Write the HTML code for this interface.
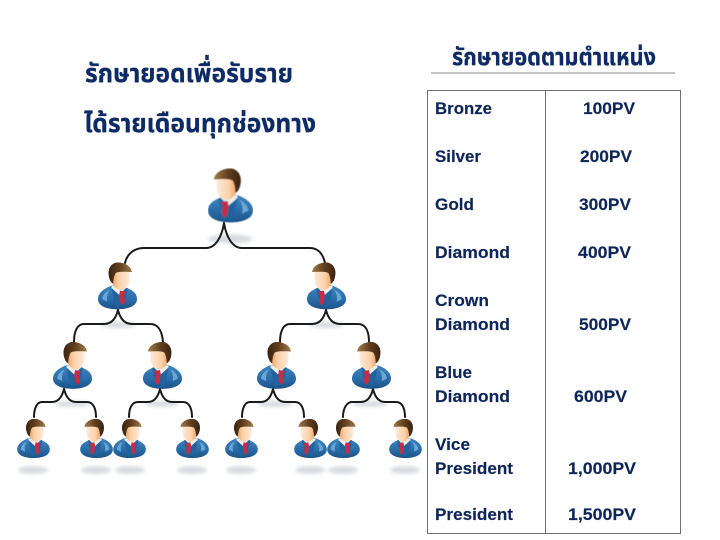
<!DOCTYPE html>
<html>
<head>
<meta charset="utf-8">
<style>
html,body{margin:0;padding:0;background:#fff}
svg{display:block}
.th{font-family:"Liberation Sans","Noto Sans Thai","Noto Sans CJK SC","WenQuanYi Zen Hei",sans-serif;fill:#0f2b66;font-weight:bold;stroke:#0f2b66;stroke-width:.25}
.t{font-family:"Liberation Sans",sans-serif;font-size:17px;font-weight:bold;fill:#0e2558;stroke:#0e2558;stroke-width:.15}
</style>
</head>
<body>
<svg width="720" height="540" viewBox="0 0 720 540" xmlns="http://www.w3.org/2000/svg">
<defs>
<linearGradient id="suit" x1="0" y1="0" x2="0" y2="1"><stop offset="0" stop-color="#3f86c0"/><stop offset=".6" stop-color="#2a6ca8"/><stop offset="1" stop-color="#1d5288"/></linearGradient>
<linearGradient id="face" x1="0" y1="0" x2="1" y2="0"><stop offset="0" stop-color="#fdeadb"/><stop offset=".65" stop-color="#fbcfa6"/><stop offset="1" stop-color="#ef9f62"/></linearGradient>
<linearGradient id="hair" x1="0" y1="0" x2="1" y2="0"><stop offset="0" stop-color="#a07a48"/><stop offset=".55" stop-color="#5e3d1e"/><stop offset="1" stop-color="#3b2412"/></linearGradient>
<filter id="b" x="-10%" y="-10%" width="120%" height="120%"><feGaussianBlur stdDeviation=".45"/></filter>
<filter id="s" x="-30%" y="-100%" width="160%" height="300%"><feGaussianBlur stdDeviation="1.8"/></filter>
<symbol id="p" viewBox="0 0 46 55">
<g filter="url(#b)">
<path d="M0 43C0 35 7 32 14 29L22 26L30 27C38 30 46 35 46 43C46 51 36 55 23 55C10 55 0 51 0 43Z" fill="url(#suit)"/>
<path d="M32 32C37 34 41 38 41 43L35 46C36 40 35 36 32 32Z" fill="#6ba6d6"/>
<path d="M11 30L13 41L21 50L22 54L27 48L30 29L22 30Z" fill="#22649f"/>
<path d="M13 30L18 29L30 27L30 30L21 38Z" fill="#eeeeea"/>
<path d="M13 34L20 33L21 38L20 47L17 50L14 47L15 39Z" fill="#c22d47"/>
<path d="M9 15C8 6 13 3 19 3C26 3 29 11 29 20C29 28 23 33 17 32C11 31 8 23 9 15Z" fill="url(#face)"/>
<path d="M6 11C7 3 17 -1 25 0C32 2 35 9 33 17C32 21 31 23 28 25C28 20 27 15 25 12C20 10 12 11 6 11Z" fill="url(#hair)"/>
</g>
</symbol>
</defs>

<rect width="720" height="540" fill="#fff"/>

<!-- titles -->
<text class="th" x="85" y="82" font-size="26" textLength="208" lengthAdjust="spacingAndGlyphs">รักษายอดเพื่อรับราย</text>
<text class="th" x="84" y="132" font-size="26" textLength="232" lengthAdjust="spacingAndGlyphs">ได้รายเดือนทุกช่องทาง</text>
<text class="th" x="452" y="65" font-size="24" textLength="204" lengthAdjust="spacingAndGlyphs">รักษายอดตามตำแหน่ง</text>
<line x1="431" y1="73" x2="675" y2="73" stroke="#8a8a8a" stroke-width="1"/>

<!-- table -->
<rect x="427.500" y="90.500" width="253" height="443" fill="#fff" stroke="#707070" stroke-width="1"/>
<line x1="545.500" y1="90" x2="545.500" y2="533" stroke="#707070" stroke-width="1"/>

<text class="t" x="435" y="114" textLength="57" lengthAdjust="spacingAndGlyphs">Bronze</text>
<text class="t" x="435" y="162" textLength="46" lengthAdjust="spacingAndGlyphs">Silver</text>
<text class="t" x="435" y="210" textLength="39" lengthAdjust="spacingAndGlyphs">Gold</text>
<text class="t" x="435" y="258" textLength="75" lengthAdjust="spacingAndGlyphs">Diamond</text>
<text class="t" x="435" y="306" textLength="54" lengthAdjust="spacingAndGlyphs">Crown</text>
<text class="t" x="435" y="330" textLength="75" lengthAdjust="spacingAndGlyphs">Diamond</text>
<text class="t" x="435" y="378" textLength="37" lengthAdjust="spacingAndGlyphs">Blue</text>
<text class="t" x="435" y="402" textLength="75" lengthAdjust="spacingAndGlyphs">Diamond</text>
<text class="t" x="435" y="450" textLength="35" lengthAdjust="spacingAndGlyphs">Vice</text>
<text class="t" x="435" y="474" textLength="78" lengthAdjust="spacingAndGlyphs">President</text>
<text class="t" x="435" y="520" textLength="78" lengthAdjust="spacingAndGlyphs">President</text>

<text class="t" x="583" y="114" textLength="52" lengthAdjust="spacingAndGlyphs">100PV</text>
<text class="t" x="580" y="162" textLength="52" lengthAdjust="spacingAndGlyphs">200PV</text>
<text class="t" x="579" y="210" textLength="52" lengthAdjust="spacingAndGlyphs">300PV</text>
<text class="t" x="578" y="258" textLength="53" lengthAdjust="spacingAndGlyphs">400PV</text>
<text class="t" x="579" y="330" textLength="52" lengthAdjust="spacingAndGlyphs">500PV</text>
<text class="t" x="574" y="402" textLength="53" lengthAdjust="spacingAndGlyphs">600PV</text>
<text class="t" x="568" y="474" textLength="68" lengthAdjust="spacingAndGlyphs">1,000PV</text>
<text class="t" x="568" y="520" textLength="68" lengthAdjust="spacingAndGlyphs">1,500PV</text>

<!-- shadows -->
<g fill="#d8dce0" filter="url(#s)">
<ellipse cx="230" cy="239" rx="22" ry="4.500"/>
<ellipse cx="118" cy="325" rx="18" ry="3"/>
<ellipse cx="326" cy="325" rx="18" ry="3"/>
<ellipse cx="72" cy="404" rx="18" ry="3"/>
<ellipse cx="162" cy="404" rx="18" ry="3"/>
<ellipse cx="275" cy="404" rx="18" ry="3"/>
<ellipse cx="370" cy="404" rx="18" ry="3"/>
<ellipse cx="33" cy="470" rx="15" ry="4"/>
<ellipse cx="96" cy="470" rx="15" ry="4"/>
<ellipse cx="130" cy="470" rx="15" ry="4"/>
<ellipse cx="192" cy="470" rx="15" ry="4"/>
<ellipse cx="241" cy="470" rx="15" ry="4"/>
<ellipse cx="310" cy="470" rx="15" ry="4"/>
<ellipse cx="343" cy="470" rx="15" ry="4"/>
<ellipse cx="405" cy="470" rx="15" ry="4"/>
</g>

<!-- connectors -->
<g fill="none" stroke="#1a1a1a" stroke-width="2" stroke-linecap="round">
<path d="M224 223C222 236 216 248 206 248H144C134 248 127 254 125 263"/>
<path d="M224 223C226 236 232 248 242 248H310C318 248 323 254 325 263"/>
<path d="M118 310C116 318 112 324 104 324H84C78 324 74 330 74 342"/>
<path d="M118 310C120 318 124 324 132 324H150C158 324 162 330 163 342"/>
<path d="M326 310C324 318 320 324 312 324H290C284 324 280 330 280 342"/>
<path d="M326 310C328 318 332 324 340 324H358C365 324 369 330 369 342"/>
<path d="M64 389C62 397 58 402 52 402H42C37 402 34 408 34 417"/>
<path d="M64 389C66 397 70 402 76 402H87C93 402 96 408 96 417"/>
<path d="M160 389C158 397 154 402 148 402H138C132 402 129 408 129 417"/>
<path d="M160 389C162 397 166 402 172 402H183C189 402 192 408 192 417"/>
<path d="M273 389C271 397 267 402 261 402H250C245 402 242 408 242 417"/>
<path d="M273 389C275 397 279 402 285 402H295C301 402 304 408 304 417"/>
<path d="M373 389C371 397 367 402 361 402H352C347 402 343 408 343 417"/>
<path d="M373 389C375 397 379 402 385 402H396C402 402 405 408 405 417"/>
</g>

<!-- people: level 0 -->
<use href="#p" x="208" y="168" width="45" height="55"/>
<!-- level 1 -->
<use href="#p" transform="translate(137,262) scale(-1,1)" width="39" height="48"/>
<use href="#p" x="307" y="262" width="39" height="48"/>
<!-- level 2 -->
<use href="#p" transform="translate(92,342) scale(-1,1)" width="39" height="47"/>
<use href="#p" x="143" y="342" width="39" height="47"/>
<use href="#p" transform="translate(296,342) scale(-1,1)" width="39" height="47"/>
<use href="#p" x="352" y="342" width="39" height="47"/>
<!-- level 3 -->
<use href="#p" transform="translate(50,419) scale(-1,1)" width="33" height="39"/>
<use href="#p" x="80" y="419" width="33" height="39"/>
<use href="#p" transform="translate(146,419) scale(-1,1)" width="33" height="39"/>
<use href="#p" x="176" y="419" width="33" height="39"/>
<use href="#p" transform="translate(258,419) scale(-1,1)" width="33" height="39"/>
<use href="#p" x="294" y="419" width="33" height="39"/>
<use href="#p" transform="translate(360,419) scale(-1,1)" width="33" height="39"/>
<use href="#p" x="389" y="419" width="33" height="39"/>
</svg>
</body>
</html>
